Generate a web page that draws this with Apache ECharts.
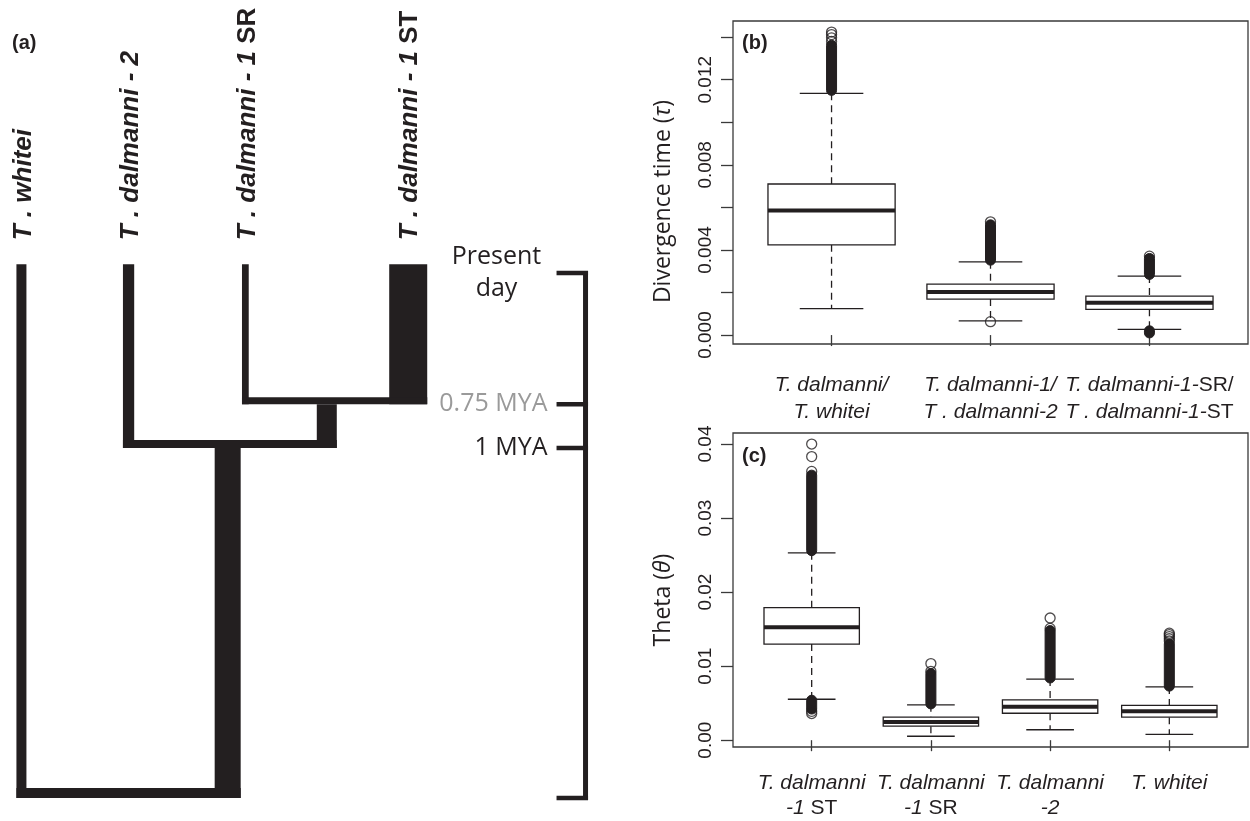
<!DOCTYPE html>
<html><head><meta charset="utf-8">
<script src="https://cdn.jsdelivr.net/npm/echarts@6/dist/echarts.min.js"></script>
<style>html,body{margin:0;padding:0;background:#fff}#c{width:1250px;height:821px}</style>
</head><body><div id="c"></div>
<script>
// ================= DATA =================
// Panel (a): species tree (time in million years ago, branch width ~ theta)
const tipNames = ['{bi|T . whitei}', '{bi|T . dalmanni - 2}', '{bi|T . dalmanni - 1 }{b|SR}', '{bi|T . dalmanni - 1 }{b|ST}'];
const tipPos = [0, 1, 2.09, 3.61];              // left-to-right layout order
const tipTheta = [0.0040, 0.0045, 0.0027, 0.0152];
const tipTop = -0.05;                             // tips reach present day
const nodeChildren = [[2, 3], [1, 4], [0, 5]];    // internal nodes 4,5,6 (6 = root)
const nodeTime = [0.75, 1.0, 3.0];                // MYA
const nodeTheta = [0.0080, 0.0104, 0];
const scaleTicks = [0, 0.75, 1];
const scaleLabels = ['Present\nday', '0.75 MYA', '1 MYA'];
const rootAge = 3.0;
const barPos = 5.265;

// Panel (b): divergence time
const divLabels = ['{i|T. dalmanni/}\n{i|T. whitei}', '{i|T. dalmanni-1/}\n{i|T . dalmanni-2}', '{i|T. dalmanni-1-}{n|SR/}\n{i|T . dalmanni-1-}{n|ST}'];
const divLow  = [0.00124, 0.00067, 0.00027];
const divQ1   = [0.00424, 0.00169, 0.00121];
const divMed  = [0.00585, 0.00202, 0.00152];
const divQ3   = [0.00710, 0.00239, 0.00183];
const divHigh = [0.01136, 0.00344, 0.00277];
const divOutBands = [[1, 0.01150, 0.01362], [2, 0.00352, 0.00518], [3, 0.00285, 0.00360], [3, 0.00010, 0.00020]];
const divOutliers = [[1, 0.01380], [1, 0.01397], [1, 0.01412], [1, 0.01424], [2, 0.00532], [2, 0.00063], [3, 0.00371]];
const divTicks = [0, 0.002, 0.004, 0.006, 0.008, 0.010, 0.012, 0.014];
const divTickLabels = [0, 0.004, 0.008, 0.012];

// Panel (c): theta
const thetaLabels = ['{i|T. dalmanni}\n{i|-1 }{n|ST}', '{i|T. dalmanni}\n{i|-1 }{n|SR}', '{i|T. dalmanni}\n{i|-2}', '{i|T. whitei}'];
const thetaLow  = [0.00553, 0.00053, 0.00141, 0.00079];
const thetaQ1   = [0.01298, 0.00189, 0.00364, 0.00311];
const thetaMed  = [0.01526, 0.00245, 0.00452, 0.00390];
const thetaQ3   = [0.01790, 0.00311, 0.00544, 0.00469];
const thetaHigh = [0.02530, 0.00478, 0.00825, 0.00719];
const thetaOutBands = [[1, 0.0256, 0.0358], [1, 0.0042, 0.0054], [2, 0.0049, 0.0090], [3, 0.0084, 0.0148], [4, 0.0073, 0.0130]];
const thetaOutliers = [[1, 0.0363], [1, 0.0383], [1, 0.0400], [1, 0.0039], [1, 0.0036],
  [2, 0.0093], [2, 0.01035], [3, 0.0151], [3, 0.0165], [4, 0.0134], [4, 0.0137], [4, 0.0140], [4, 0.01425], [4, 0.01445]];
const thetaTicks = [0, 0.01, 0.02, 0.03, 0.04];

// ================= STYLE =================
const INK = '#231f20', FRAME = '#3a3a3a', GRAY = '#9a9a9a';
const ARIAL = "'Liberation Sans', Arial, sans-serif";
const CAL = "'Open Sans', sans-serif";
const PX_PER_THETA = 2500;
const connectorPx = [7, 8, 10];

// ================= TREE BUILD =================
const nodes = [];
tipNames.forEach((n, i) => nodes.push({ pos: tipPos[i], time: tipTop, theta: tipTheta[i], tip: i }));
nodeChildren.forEach((ch, k) => nodes.push({ pos: (nodes[ch[0]].pos + nodes[ch[1]].pos) / 2, time: nodeTime[k], theta: nodeTheta[k], children: ch, k: k }));
nodes.forEach((n, idx) => { if (n.children) n.children.forEach(c => { nodes[c].parent = idx; }); });

function treeItem(params, api) {
  const n = nodes[params.dataIndex];
  const out = [];
  const p = api.coord([n.pos, n.time]);
  const w = n.theta * PX_PER_THETA;
  if (n.parent != null) {
    const by = api.coord([n.pos, nodes[n.parent].time])[1];
    out.push({ type: 'rect', shape: { x: p[0] - w / 2, y: p[1], width: w, height: by - p[1] }, style: { fill: INK } });
  }
  if (n.children) {
    const a = nodes[n.children[0]], b = nodes[n.children[1]];
    const xa = api.coord([a.pos, 0])[0] - a.theta * PX_PER_THETA / 2;
    const xb = api.coord([b.pos, 0])[0] + b.theta * PX_PER_THETA / 2;
    const h = connectorPx[n.k];
    out.push({ type: 'rect', shape: { x: xa, y: p[1] - h, width: xb - xa, height: h }, style: { fill: INK } });
  }
  if (n.tip != null) {
    out.push({ type: 'text', x: p[0] + 2, y: p[1] - 24, rotation: Math.PI / 2,
      style: { text: tipNames[n.tip], align: 'left', verticalAlign: 'middle', fill: INK,
        rich: { bi: { fontFamily: ARIAL, fontSize: 26, fontWeight: 'bold', fontStyle: 'italic', fill: INK },
                b: { fontFamily: ARIAL, fontSize: 26, fontWeight: 'bold', fontStyle: 'normal', fill: INK } } } });
  }
  return { type: 'group', children: out };
}

function scaleItem(params, api) {
  const i = params.dataIndex;
  const t = api.value(1);
  const p = api.coord([barPos, t]);
  const out = [];
  const tickLen = 29;
  if (i === 0) {
    const pb = api.coord([barPos, rootAge]);
    out.push({ type: 'rect', shape: { x: p[0] - 2.5, y: p[1] - 2, width: 5, height: pb[1] - p[1] + 4 }, style: { fill: INK } });
    out.push({ type: 'rect', shape: { x: p[0] - tickLen, y: pb[1] - 2.2, width: tickLen + 2.5, height: 4.5 }, style: { fill: INK } });
  }
  out.push({ type: 'rect', shape: { x: p[0] - tickLen, y: p[1] - 2.2, width: tickLen + 2.5, height: 4.5 }, style: { fill: INK } });
  const isPresent = i === 0;
  out.push({ type: 'text', x: isPresent ? p[0] - tickLen - 60 : p[0] - tickLen - 9, y: p[1],
    style: { text: scaleLabels[i], align: isPresent ? 'center' : 'right', verticalAlign: 'middle',
      fontFamily: CAL, fontSize: 25, lineHeight: 32, fill: i === 1 ? GRAY : INK } });
  return { type: 'group', children: out };
}

function boxItem() {
  return function (params, api) {
    const x = api.value(0), lo = api.value(1), q1 = api.value(2), md = api.value(3), q3 = api.value(4), hi = api.value(5);
    const c = api.coord([x, md]);
    const bl = api.coord([x - 0.4, q3]), br = api.coord([x + 0.4, q1]);
    const cl = api.coord([x - 0.2, hi])[0], cr = api.coord([x + 0.2, hi])[0];
    const yHi = api.coord([x, hi])[1], yLo = api.coord([x, lo])[1];
    const ls = { stroke: INK, lineWidth: 1.3 };
    return { type: 'group', children: [
      { type: 'line', shape: { x1: c[0], y1: yHi, x2: c[0], y2: bl[1] }, style: { stroke: INK, lineWidth: 1.3, lineDash: [7, 5] } },
      { type: 'line', shape: { x1: c[0], y1: br[1], x2: c[0], y2: yLo }, style: { stroke: INK, lineWidth: 1.3, lineDash: [7, 5] } },
      { type: 'line', shape: { x1: cl, y1: yHi, x2: cr, y2: yHi }, style: ls },
      { type: 'line', shape: { x1: cl, y1: yLo, x2: cr, y2: yLo }, style: ls },
      { type: 'rect', shape: { x: bl[0], y: bl[1], width: br[0] - bl[0], height: br[1] - bl[1] }, style: { fill: '#fff', stroke: INK, lineWidth: 1.3 } },
      { type: 'line', shape: { x1: bl[0], y1: c[1], x2: br[0], y2: c[1] }, style: { stroke: INK, lineWidth: 4 } }
    ] };
  };
}
function bandItem(params, api) {
  const x = api.value(0);
  const pLo = api.coord([x, api.value(1)]), pHi = api.coord([x, api.value(2)]);
  const r = 5;
  return { type: 'rect', shape: { x: pHi[0] - r, y: pHi[1] - r, width: 2 * r, height: pLo[1] - pHi[1] + 2 * r, r: r },
    style: { fill: INK, stroke: INK, lineWidth: 1 } };
}

const divBoxData = divLow.map((v, i) => [i + 1, v, divQ1[i], divMed[i], divQ3[i], divHigh[i]]);
const thetaBoxData = thetaLow.map((v, i) => [i + 1, v, thetaQ1[i], thetaMed[i], thetaQ3[i], thetaHigh[i]]);

const labRich = {
  i: { fontFamily: ARIAL, fontSize: 21, fontStyle: 'italic', color: INK },
  n: { fontFamily: ARIAL, fontSize: 21, fontStyle: 'normal', color: INK }
};

const chart = echarts.init(document.getElementById('c'), null, { renderer: 'canvas' });
chart.setOption({
  animation: false,
  backgroundColor: '#fff',
  title: [
    { text: '(a)', left: 12, top: 33, padding: 0, textStyle: { fontFamily: ARIAL, fontWeight: 'bold', fontSize: 20, color: INK } },
    { text: '(b)', left: 742, top: 33, padding: 0, textStyle: { fontFamily: ARIAL, fontWeight: 'bold', fontSize: 20, color: INK } },
    { text: '(c)', left: 742, top: 446, padding: 0, textStyle: { fontFamily: ARIAL, fontWeight: 'bold', fontSize: 20, color: INK } }
  ],
  grid: [
    { left: 0, top: 0, width: 600, height: 819, show: false },
    { left: 733, top: 21, width: 515, height: 323, show: true, borderColor: FRAME, borderWidth: 1.3, backgroundColor: 'transparent' },
    { left: 733, top: 433, width: 515, height: 322, show: true, borderColor: FRAME, borderWidth: 1.3, backgroundColor: 'transparent' }
  ],
  xAxis: [
    { gridIndex: 0, type: 'value', min: -0.2, max: 5.4, show: false },
    { gridIndex: 1, type: 'value', min: 0.38, max: 3.62, splitLine: { show: false }, axisLine: { show: false },
      axisTick: { customValues: [1, 2, 3], length: 11, lineStyle: { color: FRAME, width: 1.3 } },
      axisLabel: { customValues: [1, 2, 3], formatter: v => divLabels[Math.round(v) - 1], margin: 28, lineHeight: 27, rich: labRich, fontFamily: ARIAL, fontSize: 21, color: INK } },
    { gridIndex: 2, type: 'value', min: 0.34, max: 4.66, splitLine: { show: false }, axisLine: { show: false },
      axisTick: { customValues: [1, 2, 3, 4], length: 11, lineStyle: { color: FRAME, width: 1.3 } },
      axisLabel: { customValues: [1, 2, 3, 4], formatter: v => thetaLabels[Math.round(v) - 1], margin: 24, lineHeight: 25, rich: labRich, fontFamily: ARIAL, fontSize: 21, color: INK } }
  ],
  yAxis: [
    { gridIndex: 0, type: 'value', min: -1.56, max: 3.12, inverse: true, show: false },
    { gridIndex: 1, type: 'value', min: -0.00042, max: 0.01476, splitLine: { show: false }, axisLine: { show: false },
      axisTick: { customValues: divTicks, length: 12, lineStyle: { color: FRAME, width: 1.3 } },
      axisLabel: { customValues: divTickLabels, rotate: 90, margin: 18, formatter: v => v.toFixed(3), fontFamily: ARIAL, fontSize: 19, color: INK },
      name: 'Divergence time ({t|τ})', nameLocation: 'middle', nameRotate: 90, nameGap: 58,
      nameTextStyle: { fontFamily: CAL, fontSize: 23, color: INK, padding: [0, 38, 0, 0],
        rich: { t: { fontFamily: CAL, fontSize: 23, fontStyle: 'italic', color: INK } } } },
    { gridIndex: 2, type: 'value', min: -0.00092, max: 0.04149, splitLine: { show: false }, axisLine: { show: false },
      axisTick: { customValues: thetaTicks, length: 12, lineStyle: { color: FRAME, width: 1.3 } },
      axisLabel: { customValues: thetaTicks, rotate: 90, margin: 18, formatter: v => v.toFixed(2), fontFamily: ARIAL, fontSize: 19, color: INK },
      name: 'Theta ({t|θ})', nameLocation: 'middle', nameRotate: 90, nameGap: 58,
      nameTextStyle: { fontFamily: CAL, fontSize: 23, color: INK, padding: [0, 20, 0, 0],
        rich: { t: { fontFamily: CAL, fontSize: 23, fontStyle: 'italic', color: INK } } } }
  ],
  series: [
    { type: 'custom', xAxisIndex: 0, yAxisIndex: 0, clip: false, silent: true,
      data: nodes.map((n, i) => [n.pos, n.time, i]), renderItem: treeItem },
    { type: 'custom', xAxisIndex: 0, yAxisIndex: 0, clip: false, silent: true,
      data: scaleTicks.map((t, i) => [barPos, t, i]), renderItem: scaleItem },
    { type: 'custom', xAxisIndex: 1, yAxisIndex: 1, silent: true, data: divBoxData, renderItem: boxItem() },
    { type: 'custom', xAxisIndex: 1, yAxisIndex: 1, silent: true, data: divOutBands, renderItem: bandItem },
    { type: 'scatter', xAxisIndex: 1, yAxisIndex: 1, silent: true, data: divOutliers, symbol: 'circle', symbolSize: 10,
      itemStyle: { color: 'rgba(0,0,0,0)', borderColor: INK, borderWidth: 1.3 } },
    { type: 'custom', xAxisIndex: 2, yAxisIndex: 2, silent: true, data: thetaBoxData, renderItem: boxItem() },
    { type: 'custom', xAxisIndex: 2, yAxisIndex: 2, silent: true, data: thetaOutBands, renderItem: bandItem },
    { type: 'scatter', xAxisIndex: 2, yAxisIndex: 2, silent: true, data: thetaOutliers, symbol: 'circle', symbolSize: 10,
      itemStyle: { color: 'rgba(0,0,0,0)', borderColor: INK, borderWidth: 1.3 } }
  ]
});
</script></body></html>
